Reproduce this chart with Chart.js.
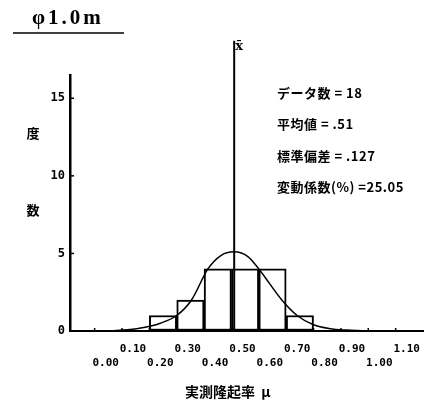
<!DOCTYPE html>
<html>
<head>
<meta charset="utf-8">
<script src="https://cdn.jsdelivr.net/npm/chart.js@4.4.0/dist/chart.umd.min.js"></script>
<style>
  html, body { margin: 0; padding: 0; background: #fff; }
  #wrap { width: 435px; height: 405px; position: relative; }
</style>
</head>
<body>
<div id="wrap"><canvas id="histo"></canvas></div>
<script>
// histogram classes (width 0.10) and their counts
const binCenters = [0.25, 0.35, 0.45, 0.55, 0.65, 0.75];
const binCounts = [1, 2, 4, 4, 4, 1];

// normal curve
const curveX = [0.06, 0.12, 0.18, 0.24, 0.30, 0.354, 0.414, 0.46, 0.51, 0.56, 0.60, 0.684, 0.74, 0.80, 0.86, 0.92, 0.98];
const curveY = [0.02, 0.08, 0.22, 0.5, 1.0, 2.0, 4.0, 4.85, 5.1, 4.8, 4.0, 2.0, 1.0, 0.4, 0.15, 0.06, 0.02];

const meanValue = 0.51;
const xTickLabels = ['0.00', '0.10', '0.20', '0.30', '0.40', '0.50', '0.60', '0.70', '0.80', '0.90', '1.00', '1.10'];
const yTickValues = [0, 5, 10, 15];
const statLines = ['データ数 = 18', '平均値 = .51', '標準偏差 = .127', '変動係数(%) =25.05'];

const cjk = '"Noto Sans CJK JP", "Noto Sans", sans-serif';

// small inward ticks + all loose text
const decor = {
  id: 'decor',
  afterDraw(chart) {
    const ctx = chart.ctx;
    const xs = chart.scales.x, ys = chart.scales.y;
    const area = chart.chartArea;
    ctx.save();
    ctx.strokeStyle = '#000';
    ctx.lineWidth = 1.5;
    xTickLabels.forEach((t, i) => {
      const px = xs.getPixelForValue(i / 10);
      ctx.beginPath();
      ctx.moveTo(px, area.bottom);
      ctx.lineTo(px, area.bottom - 3);
      ctx.stroke();
    });
    yTickValues.forEach(v => {
      if (v === 0) return;
      const py = ys.getPixelForValue(v);
      ctx.beginPath();
      ctx.moveTo(area.left, py);
      ctx.lineTo(area.left + 4, py);
      ctx.stroke();
    });

    // title
    ctx.fillStyle = '#000';
    ctx.font = 'bold 21px "Liberation Serif", serif';
    ctx.textBaseline = 'middle';
    ctx.textAlign = 'left';
    ctx.letterSpacing = '3px';
    ctx.fillText('φ1.0m', 32, 19);
    ctx.letterSpacing = '0px';
    ctx.lineWidth = 1.5;
    ctx.beginPath();
    ctx.moveTo(13, 33);
    ctx.lineTo(124, 33);
    ctx.stroke();

    // mean marker
    ctx.font = 'bold 13px "DejaVu Serif", serif';
    ctx.fillText('x\u0304', xs.getPixelForValue(meanValue) + 1, 47);

    // axis titles
    ctx.font = 'bold 13px ' + cjk;
    ctx.textAlign = 'center';
    ctx.fillText('度', 33, 133);
    ctx.fillText('数', 33, 210);
    ctx.font = 'bold 14px ' + cjk;
    ctx.textAlign = 'left';
    ctx.fillText('実測隆起率  μ', 185, 392);

    // statistics
    ctx.font = 'bold 13px ' + cjk;
    ctx.letterSpacing = '0.5px';
    statLines.forEach((s, i) => ctx.fillText(s, 277, 93 + i * 31.5));
    ctx.restore();
  }
};

new Chart(document.getElementById('histo'), {
  type: 'bar',
  data: {
    datasets: [
      {
        type: 'bar',
        data: binCenters.map((c, i) => ({x: c, y: binCounts[i]})),
        backgroundColor: '#fff',
        borderColor: '#000',
        borderWidth: 2,
        borderSkipped: false,
        barPercentage: 1,
        categoryPercentage: 1,
        order: 3
      },
      {
        type: 'line',
        data: curveX.map((x, i) => ({x: x, y: curveY[i]})),
        borderColor: '#000',
        borderWidth: 1.5,
        pointRadius: 0,
        cubicInterpolationMode: 'monotone',
        fill: false,
        order: 2
      },
      {
        type: 'line',
        data: [{x: meanValue, y: 0}, {x: meanValue, y: 18.7}],
        borderColor: '#000',
        borderWidth: 2,
        pointRadius: 0,
        clip: false,
        order: 1
      }
    ]
  },
  options: {
    responsive: true,
    maintainAspectRatio: false,
    animation: false,
    layout: { padding: { top: 75, right: 12, left: 0, bottom: 0 } },
    plugins: { legend: { display: false }, tooltip: { enabled: false } },
    scales: {
      x: {
        type: 'linear',
        offset: false,
        min: -0.09,
        max: 1.2,
        afterFit(scale) { scale.height = 74; },
        grid: { display: true, offset: false, drawOnChartArea: false, drawTicks: false },
        border: { display: true, color: '#000', width: 2 },
        ticks: {
          stepSize: 0.1,
          includeBounds: false,
          autoSkip: false,
          maxRotation: 0,
          padding: 12,
          labelOffset: 11,
          color: '#000',
          font: { family: '"DejaVu Sans Mono", monospace', weight: 'bold', size: 11 },
          callback(value) {
            const k = Math.round(value * 10);
            if (k < 0 || k >= xTickLabels.length) return '';
            return k % 2 === 1 ? [xTickLabels[k], ''] : ['', xTickLabels[k]];
          }
        }
      },
      y: {
        min: 0,
        max: 16.5,
        afterFit(scale) { scale.width = 70; },
        grid: { display: true, drawOnChartArea: false, drawTicks: false },
        border: { display: true, color: '#000', width: 2.5 },
        ticks: {
          stepSize: 5,
          includeBounds: false,
          padding: 5,
          color: '#000',
          font: { family: '"DejaVu Sans Mono", monospace', weight: 'bold', size: 12 },
          callback(value) { return yTickValues.includes(value) ? String(value) : ''; }
        }
      }
    }
  },
  plugins: [decor]
});
</script>
</body>
</html>
